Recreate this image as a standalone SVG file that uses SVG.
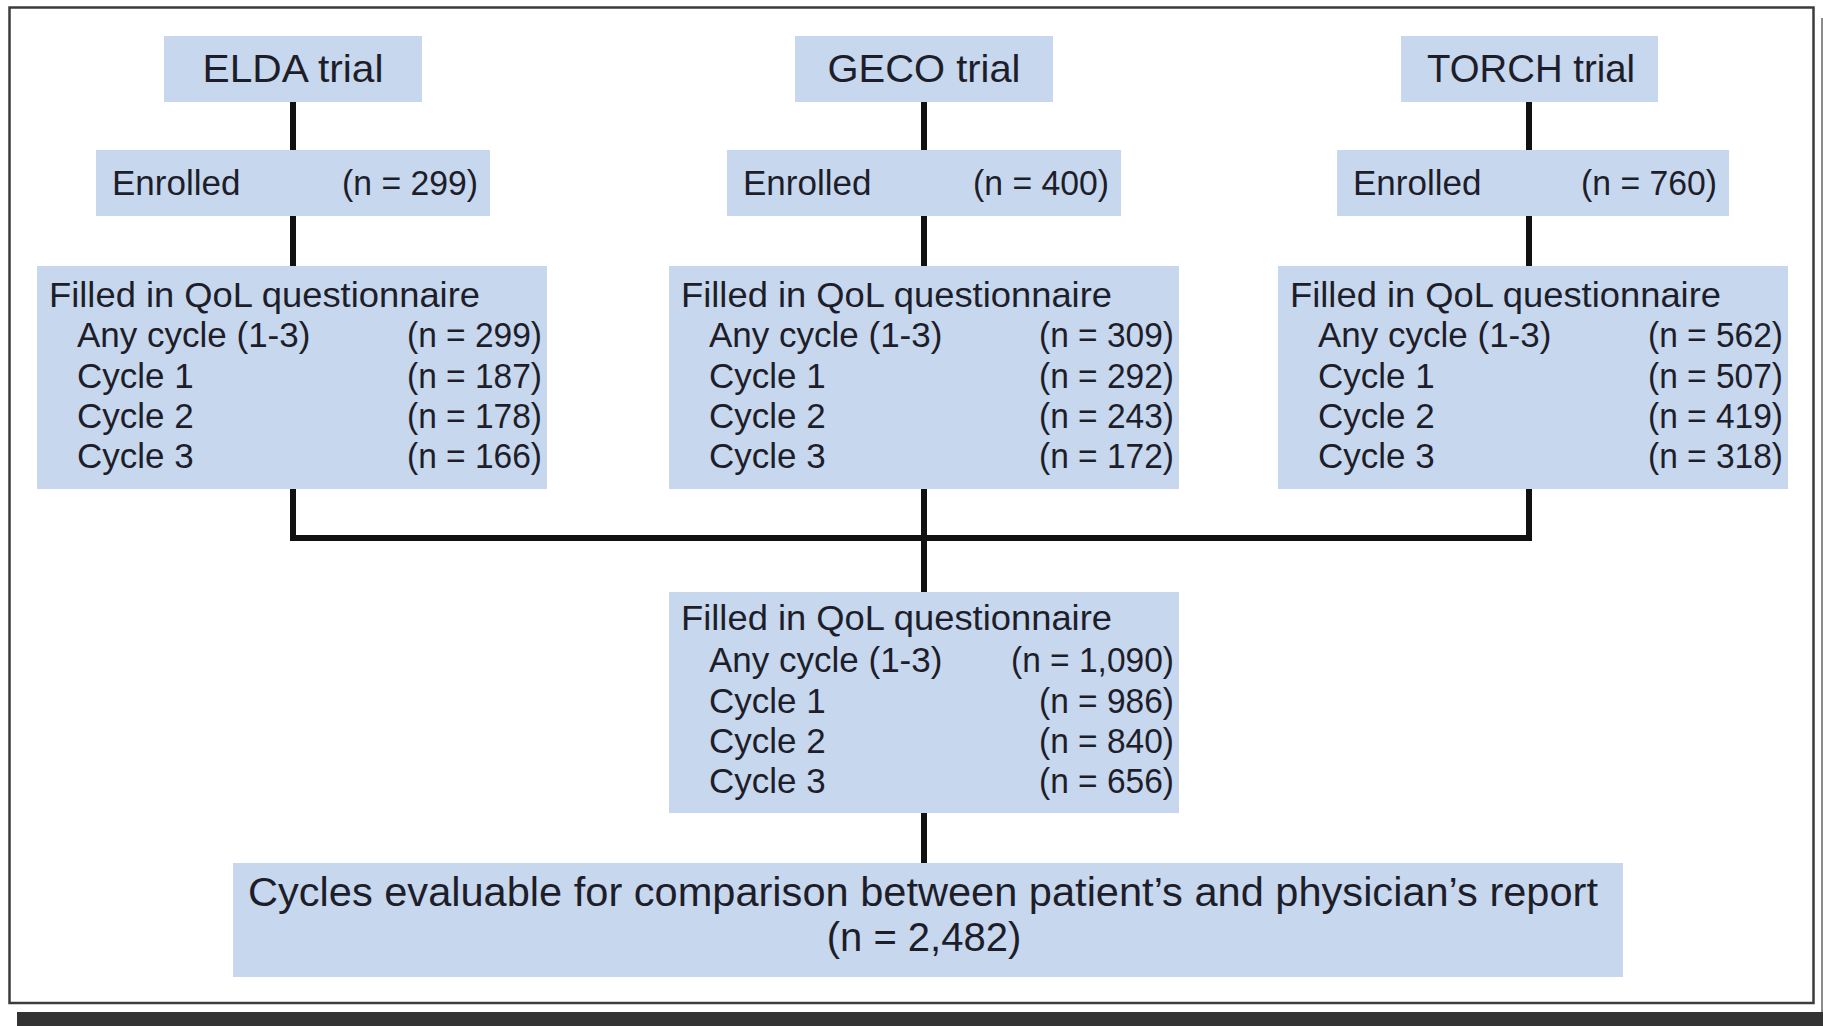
<svg xmlns="http://www.w3.org/2000/svg" width="1823" height="1026" viewBox="0 0 1823 1026">
<style>
.box{fill:#c6d7ee}
.t{font-family:"Liberation Sans",Arial,sans-serif;fill:#1e1e2a;font-size:35px}
.title{font-size:39px}
.big{font-size:40px}
.conn{fill:none;stroke:#111;stroke-width:6;stroke-linejoin:miter}
</style>
<rect x="0" y="0" width="1823" height="1026" fill="#ffffff"/>
<rect x="9.5" y="7.5" width="1804" height="995.5" fill="none" stroke="#3c3c3c" stroke-width="2.5"/>
<line x1="1822" y1="18" x2="1822" y2="1012" stroke="#666" stroke-width="1.5"/>
<rect x="17" y="1012" width="1806" height="14" fill="#333333"/>

<g id="connectors">
<path class="conn" d="M293 102V150M293 216V266M924 102V150M924 216V266M1529 102V150M1529 216V266"/>
<path class="conn" d="M293 489V538H1529V489"/>
<path class="conn" d="M924 489V592M924 813V863"/>
</g>

<g id="elda-trial">
<rect class="box" x="164" y="36" width="258" height="66"/>
<text class="t title" x="293" y="82" text-anchor="middle" textLength="181" lengthAdjust="spacingAndGlyphs">ELDA trial</text>
</g>
<g id="geco-trial">
<rect class="box" x="795" y="36" width="258" height="66"/>
<text class="t title" x="924" y="82" text-anchor="middle" textLength="193" lengthAdjust="spacingAndGlyphs">GECO trial</text>
</g>
<g id="torch-trial">
<rect class="box" x="1401" y="36" width="257" height="66"/>
<text class="t title" x="1531" y="82" text-anchor="middle" textLength="208" lengthAdjust="spacingAndGlyphs">TORCH trial</text>
</g>

<g id="elda-enrolled">
<rect class="box" x="96" y="150" width="394" height="66"/>
<text class="t" x="112" y="195">Enrolled</text>
<text class="t" x="478" y="195" text-anchor="end" textLength="136" lengthAdjust="spacingAndGlyphs">(n = 299)</text>
</g>
<g id="geco-enrolled">
<rect class="box" x="727" y="150" width="394" height="66"/>
<text class="t" x="743" y="195">Enrolled</text>
<text class="t" x="1109" y="195" text-anchor="end" textLength="136" lengthAdjust="spacingAndGlyphs">(n = 400)</text>
</g>
<g id="torch-enrolled">
<rect class="box" x="1337" y="150" width="392" height="66"/>
<text class="t" x="1353" y="195">Enrolled</text>
<text class="t" x="1717" y="195" text-anchor="end" textLength="136" lengthAdjust="spacingAndGlyphs">(n = 760)</text>
</g>

<g id="elda-qol">
<rect class="box" x="37" y="266" width="510" height="223"/>
<text class="t" x="49" y="307" textLength="431" lengthAdjust="spacingAndGlyphs">Filled in QoL questionnaire</text>
<text class="t" x="77" y="347">Any cycle (1-3)</text>
<text class="t" x="77" y="388">Cycle 1</text>
<text class="t" x="77" y="428">Cycle 2</text>
<text class="t" x="77" y="468">Cycle 3</text>
<text class="t" x="542" y="347" text-anchor="end" textLength="135" lengthAdjust="spacingAndGlyphs">(n = 299)</text>
<text class="t" x="542" y="388" text-anchor="end" textLength="135" lengthAdjust="spacingAndGlyphs">(n = 187)</text>
<text class="t" x="542" y="428" text-anchor="end" textLength="135" lengthAdjust="spacingAndGlyphs">(n = 178)</text>
<text class="t" x="542" y="468" text-anchor="end" textLength="135" lengthAdjust="spacingAndGlyphs">(n = 166)</text>
</g>
<g id="geco-qol">
<rect class="box" x="669" y="266" width="510" height="223"/>
<text class="t" x="681" y="307" textLength="431" lengthAdjust="spacingAndGlyphs">Filled in QoL questionnaire</text>
<text class="t" x="709" y="347">Any cycle (1-3)</text>
<text class="t" x="709" y="388">Cycle 1</text>
<text class="t" x="709" y="428">Cycle 2</text>
<text class="t" x="709" y="468">Cycle 3</text>
<text class="t" x="1174" y="347" text-anchor="end" textLength="135" lengthAdjust="spacingAndGlyphs">(n = 309)</text>
<text class="t" x="1174" y="388" text-anchor="end" textLength="135" lengthAdjust="spacingAndGlyphs">(n = 292)</text>
<text class="t" x="1174" y="428" text-anchor="end" textLength="135" lengthAdjust="spacingAndGlyphs">(n = 243)</text>
<text class="t" x="1174" y="468" text-anchor="end" textLength="135" lengthAdjust="spacingAndGlyphs">(n = 172)</text>
</g>
<g id="torch-qol">
<rect class="box" x="1278" y="266" width="510" height="223"/>
<text class="t" x="1290" y="307" textLength="431" lengthAdjust="spacingAndGlyphs">Filled in QoL questionnaire</text>
<text class="t" x="1318" y="347">Any cycle (1-3)</text>
<text class="t" x="1318" y="388">Cycle 1</text>
<text class="t" x="1318" y="428">Cycle 2</text>
<text class="t" x="1318" y="468">Cycle 3</text>
<text class="t" x="1783" y="347" text-anchor="end" textLength="135" lengthAdjust="spacingAndGlyphs">(n = 562)</text>
<text class="t" x="1783" y="388" text-anchor="end" textLength="135" lengthAdjust="spacingAndGlyphs">(n = 507)</text>
<text class="t" x="1783" y="428" text-anchor="end" textLength="135" lengthAdjust="spacingAndGlyphs">(n = 419)</text>
<text class="t" x="1783" y="468" text-anchor="end" textLength="135" lengthAdjust="spacingAndGlyphs">(n = 318)</text>
</g>

<g id="pooled-qol">
<rect class="box" x="669" y="592" width="510" height="221"/>
<text class="t" x="681" y="630" textLength="431" lengthAdjust="spacingAndGlyphs">Filled in QoL questionnaire</text>
<text class="t" x="709" y="672">Any cycle (1-3)</text>
<text class="t" x="709" y="713">Cycle 1</text>
<text class="t" x="709" y="753">Cycle 2</text>
<text class="t" x="709" y="793">Cycle 3</text>
<text class="t" x="1174" y="672" text-anchor="end" textLength="163" lengthAdjust="spacingAndGlyphs">(n = 1,090)</text>
<text class="t" x="1174" y="713" text-anchor="end" textLength="135" lengthAdjust="spacingAndGlyphs">(n = 986)</text>
<text class="t" x="1174" y="753" text-anchor="end" textLength="135" lengthAdjust="spacingAndGlyphs">(n = 840)</text>
<text class="t" x="1174" y="793" text-anchor="end" textLength="135" lengthAdjust="spacingAndGlyphs">(n = 656)</text>
</g>

<g id="evaluable">
<rect class="box" x="233" y="863" width="1390" height="114"/>
<text class="t big" x="923" y="906" text-anchor="middle" textLength="1350" lengthAdjust="spacingAndGlyphs">Cycles evaluable for comparison between patient’s and physician’s report</text>
<text class="t big" x="924" y="951" text-anchor="middle">(n = 2,482)</text>
</g>
</svg>
